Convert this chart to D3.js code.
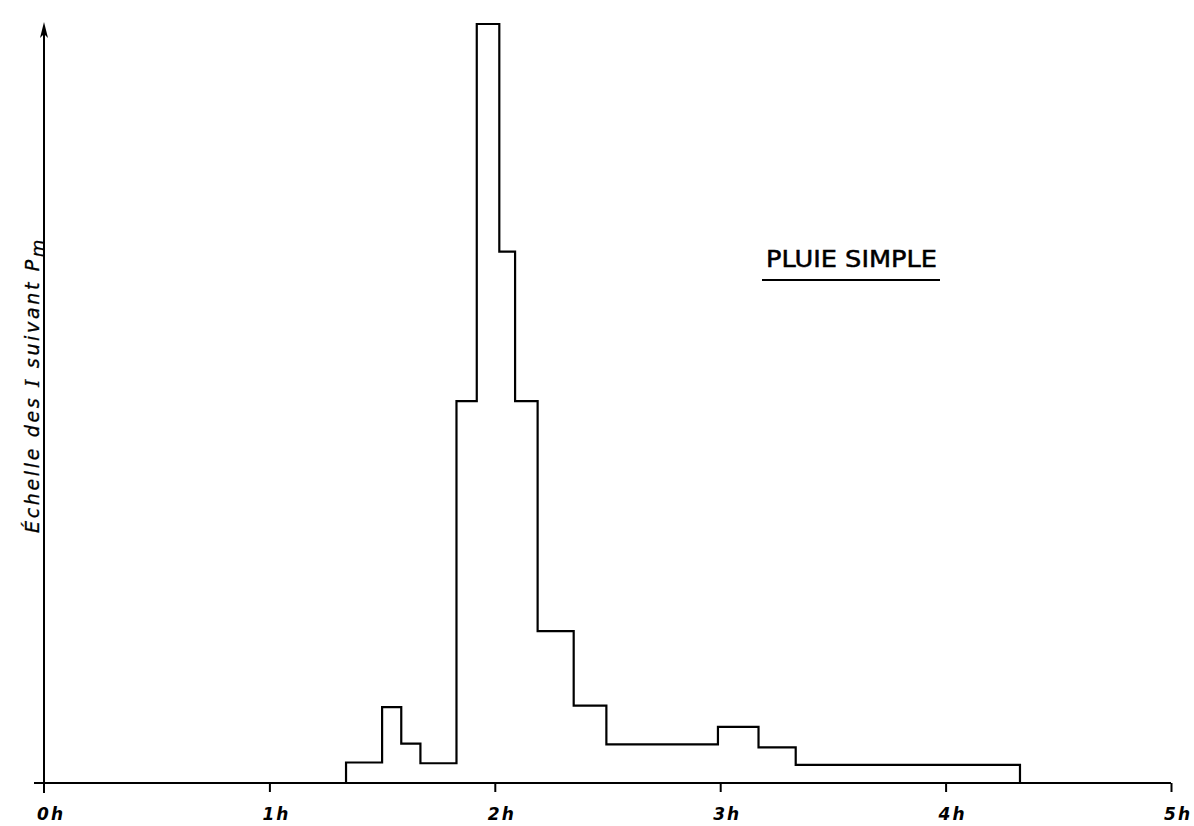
<!DOCTYPE html>
<html>
<head>
<meta charset="utf-8">
<script src="https://cdn.jsdelivr.net/npm/d3@7"></script>
<style>
  html, body { margin: 0; padding: 0; background: #fff; }
  svg { display: block; }
</style>
</head>
<body>
<svg id="chart" width="1194" height="826"></svg>
<script>
// ---- data ----
// interval boundaries, in hours
const binEdges = [1.34, 1.50, 1.585, 1.67, 1.83, 1.92, 2.02, 2.09, 2.19, 2.35, 2.495, 2.99, 3.17, 3.335, 4.33];
// relative intensity in each interval (peak = 100, arbitrary scale)
const intensities = [2.7, 10, 5.2, 2.6, 50.3, 100, 70, 50.3, 20, 10.2, 5.1, 7.4, 4.7, 2.4];
const hourTicks = [0, 1, 2, 3, 4, 5];
const hourLabels = ["0 h", "1 h", "2 h", "3 h", "4 h", "5 h"];
const yTitleParts = ["Échelle des ", "I", " suivant P"];
const yTitleSub = "m";
const legendText = "PLUIE SIMPLE";

// ---- scales ----
const svg = d3.select("#chart");
const x = d3.scaleLinear().domain([0, 5]).range([44, 1171]);
const y = d3.scaleLinear().domain([0, 100]).range([783, 24]);

// ---- x axis ----
svg.append("line")
  .attr("x1", x(0) - 10).attr("x2", x(5))
  .attr("y1", y(0)).attr("y2", y(0))
  .attr("stroke", "#000").attr("stroke-width", 2);

const xAxis = d3.axisBottom(x)
  .tickValues(hourTicks.slice(1))
  .tickSize(9)
  .tickFormat("");
const gx = svg.append("g").attr("transform", `translate(0,${y(0)})`).call(xAxis);
gx.select(".domain").remove();
gx.selectAll(".tick line").attr("stroke", "#000").attr("stroke-width", 2);

svg.append("g").selectAll("text")
  .data(hourTicks)
  .join("text")
  .attr("x", d => x(d) - 7)
  .attr("y", 820)
  .attr("font-family", "DejaVu Sans")
  .attr("font-style", "italic")
  .attr("font-weight", "bold")
  .attr("font-size", 17)
  .attr("textLength", 26)
  .attr("lengthAdjust", "spacing")
  .attr("fill", "#000")
  .text((d, i) => hourLabels[i]);

// ---- y axis with arrow ----
svg.append("line")
  .attr("x1", x(0)).attr("x2", x(0))
  .attr("y1", y(0) + 10).attr("y2", y(100) + 4)
  .attr("stroke", "#000").attr("stroke-width", 2);

svg.append("path")
  .attr("d", `M${x(0)},${y(100) - 2} L${x(0) - 4},${y(100) + 14} L${x(0)},${y(100) + 10} L${x(0) + 4},${y(100) + 14} Z`)
  .attr("fill", "#000");

// y title
const yt = svg.append("text")
  .attr("transform", "translate(39,533) rotate(-90)")
  .attr("text-anchor", "start")
  .attr("font-family", "DejaVu Sans")
  .attr("font-style", "italic")
  .attr("font-size", 19)
  .attr("stroke", "#000")
  .attr("stroke-width", 0.3)
  .attr("fill", "#000");
yt.append("tspan").text(yTitleParts[0]);
yt.append("tspan").attr("font-family", "DejaVu Serif").text(yTitleParts[1]);
yt.append("tspan").text(yTitleParts[2]);
yt.append("tspan").attr("dy", 5).attr("font-size", 18).text(yTitleSub);
// fit the title to its span in the original (296 px)
{
  const w = yt.node().getComputedTextLength();
  const n = (yTitleParts.join("") + yTitleSub).length;
  yt.attr("letter-spacing", Math.max(0, (296 - w) / n));
}

// ---- step outline (hyetogram) ----
const pts = [[binEdges[0], 0]];
intensities.forEach((v, i) => {
  pts.push([binEdges[i], v]);
  pts.push([binEdges[i + 1], v]);
});
pts.push([binEdges[binEdges.length - 1], 0]);

const line = d3.line().x(d => x(d[0])).y(d => y(d[1]));
svg.append("path")
  .datum(pts)
  .attr("d", line)
  .attr("fill", "none")
  .attr("stroke", "#000")
  .attr("stroke-width", 2.2)
  .attr("stroke-linejoin", "miter");

// ---- legend label ----
svg.append("text")
  .attr("x", 766).attr("y", 267)
  .attr("font-family", "DejaVu Sans")
  .attr("font-size", 23)
  .attr("textLength", 171)
  .attr("lengthAdjust", "spacingAndGlyphs")
  .attr("stroke", "#000")
  .attr("stroke-width", 0.5)
  .attr("fill", "#000")
  .text(legendText);
svg.append("line")
  .attr("x1", 762).attr("x2", 940)
  .attr("y1", 280).attr("y2", 280)
  .attr("stroke", "#000").attr("stroke-width", 2);
</script>
</body>
</html>
